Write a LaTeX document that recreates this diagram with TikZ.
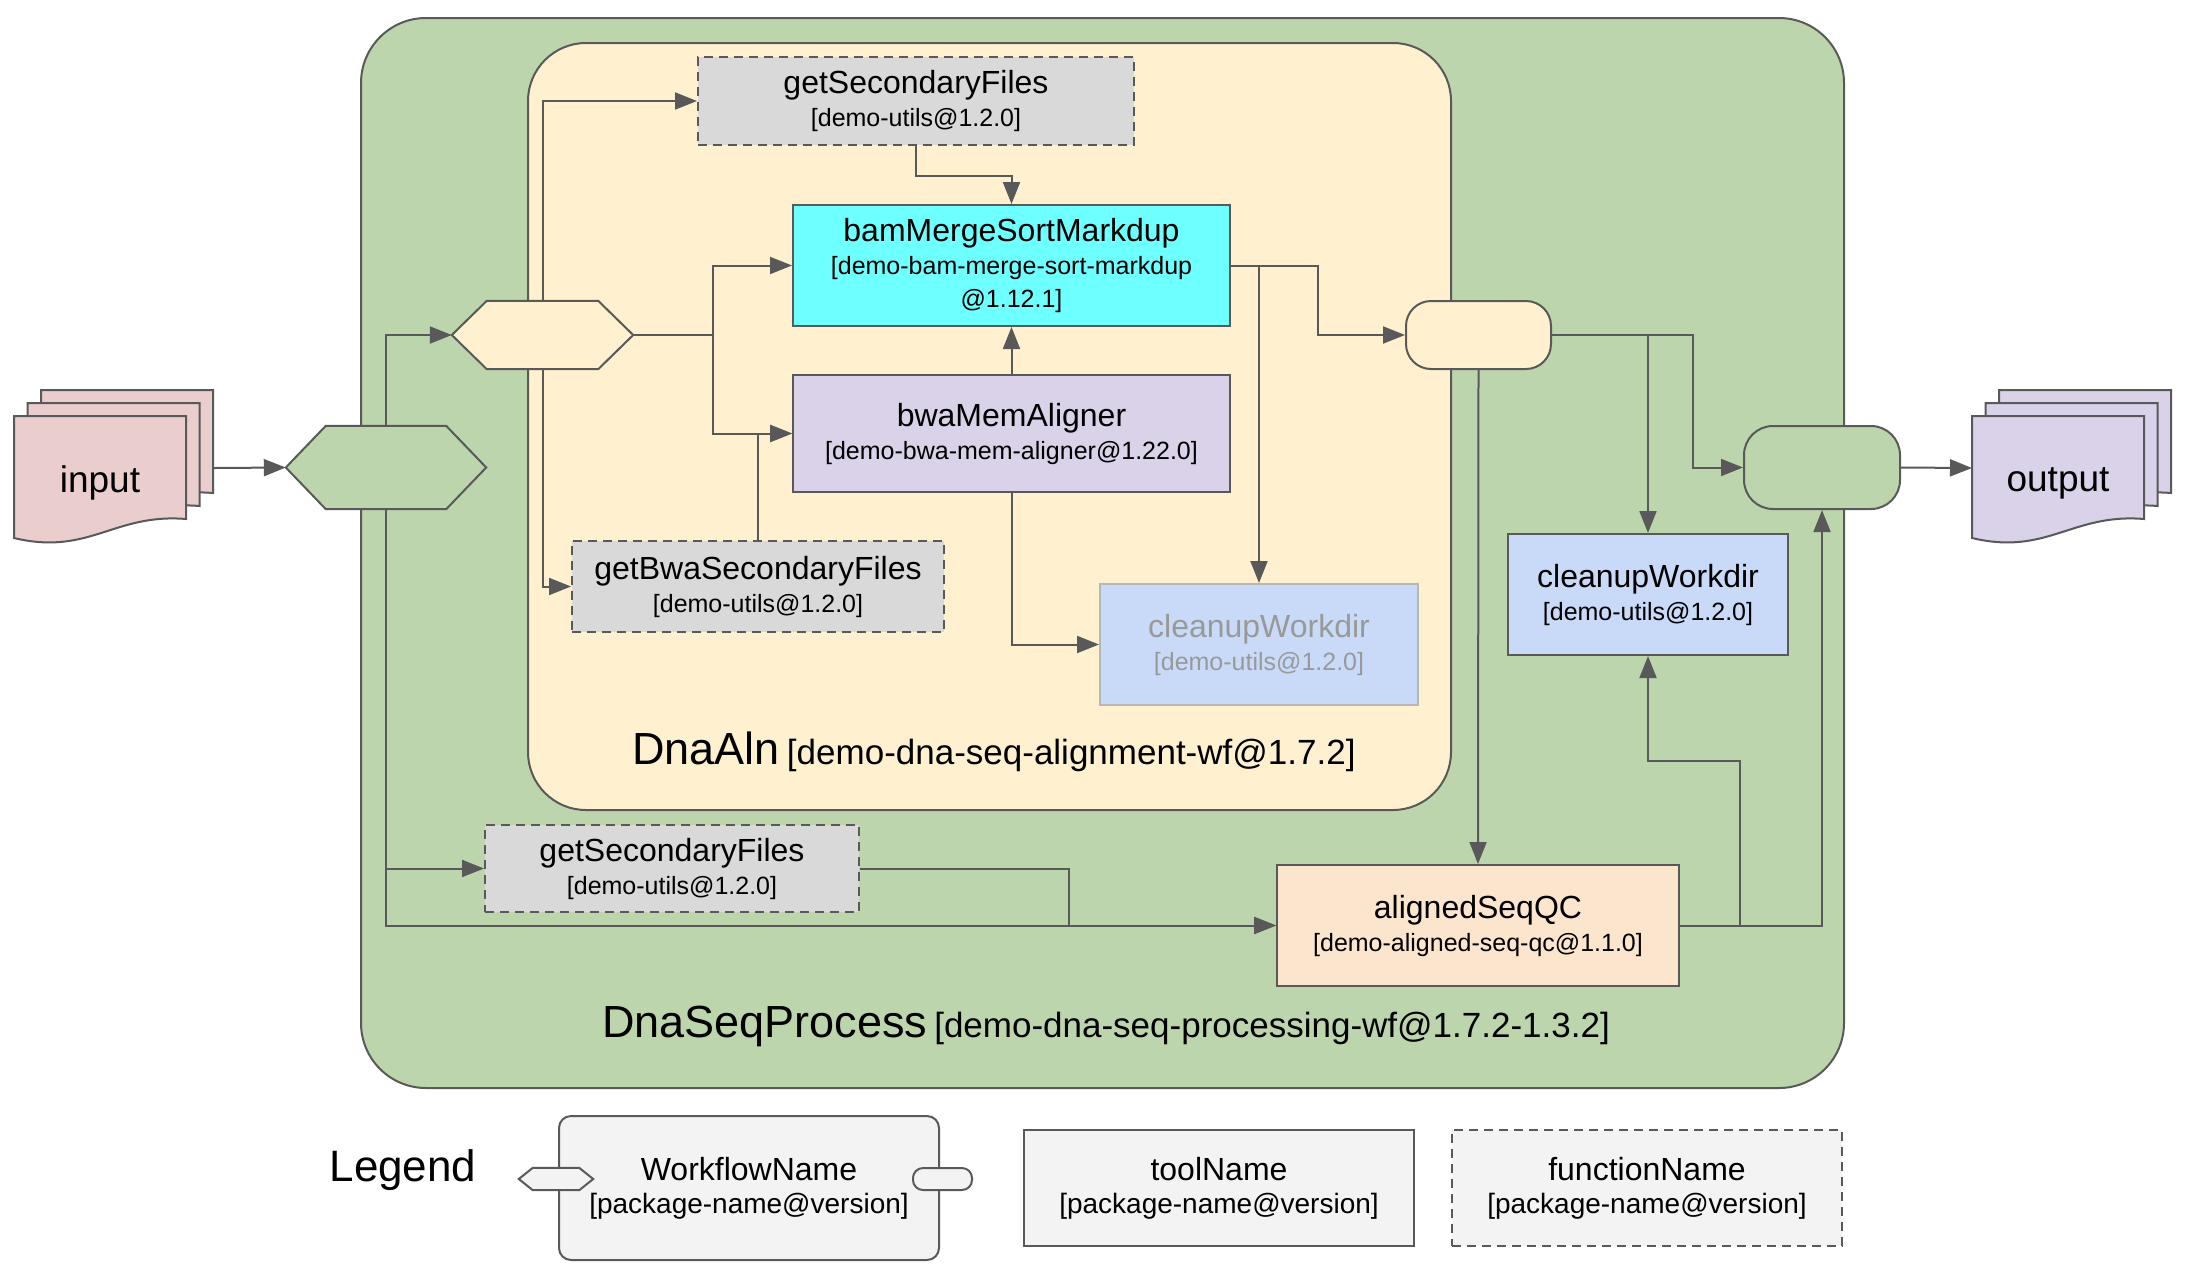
\documentclass[tikz,border=0pt]{standalone}
\usepackage{fontspec}
\setmainfont{Liberation Sans}
\usetikzlibrary{arrows.meta}

\definecolor{linegray}{HTML}{595959}
\definecolor{wfgreen}{HTML}{BCD5AC}
\definecolor{wfyellow}{HTML}{FFF1CF}
\definecolor{funcgray}{HTML}{D9D9D9}
\definecolor{bamcyan}{HTML}{6EFFFF}
\definecolor{bwalilac}{HTML}{D9D2E8}
\definecolor{cleanblue}{HTML}{C9DAF8}
\definecolor{qcpeach}{HTML}{FCE5CD}
\definecolor{inpink}{HTML}{EACDCD}
\definecolor{legendgray}{HTML}{F3F3F3}
\definecolor{fadegray}{HTML}{999999}
\definecolor{fadeline}{HTML}{B7B7B7}

\newcommand{\namefont}{\fontsize{32}{36}\selectfont}
\newcommand{\pkgfont}{\fontsize{25}{33}\selectfont}
\newcommand{\docfont}{\fontsize{37}{44}\selectfont}

% stack of three sheets, #1,#2 = top left of the front sheet
\newcommand{\docsheet}[3]{%
	\draw[draw=linegray, line width=2pt, fill=#3] (#1,#2) -- ({#1+172},#2) -- ({#1+172},{#2+103})
		.. controls ({#1+100},{#2+97}) and ({#1+75},{#2+140}) .. (#1,{#2+122}) -- cycle;}
\newcommand{\docstack}[3]{%
	\docsheet{#1+27}{#2-26}{#3}
	\docsheet{#1+13.5}{#2-13}{#3}
	\docsheet{#1}{#2}{#3}}
% hexagon drawn over a port node
\newcommand{\hexshape}[3]{%
	\draw[draw=linegray, line width=2pt, fill=#3] (#1.west) -- ([xshift=#2pt]#1.north west)
		-- ([xshift=-#2pt]#1.north east) -- (#1.east) -- ([xshift=-#2pt]#1.south east)
		-- ([xshift=#2pt]#1.south west) -- cycle;}

\begin{document}
\begin{tikzpicture}[x=1pt, y=-1pt,
	every node/.style={inner sep=0pt, align=center, font=\pkgfont},
	dims/.style 2 args={minimum width=#1pt, minimum height=#2pt},
	tool/.style={draw=linegray, line width=2pt},
	func/.style={tool, dash pattern=on 9pt off 6pt, fill=funcgray},
	wf/.style={draw=linegray, line width=2pt},
	port/.style={draw=none},
	pill/.style={draw=linegray, line width=2pt},
	conn/.style={draw=linegray, line width=2pt, -{Triangle[length=22pt,width=17pt]}}
]
\useasboundingbox (0,0) rectangle (2190,1270);

% workflows
\node[wf, fill=wfgreen, rounded corners=65pt, dims={1483}{1070}] (seqproc) at (1102.5,553) {};
\node[wf, fill=wfyellow, rounded corners=58pt, dims={923}{767}] (dnaaln) at (989.5,426.5) {};
\node[anchor=base] (alnlabel) at (994,764)
	{{\fontsize{45}{50}\selectfont DnaAln} {\fontsize{35}{42}\selectfont [demo-dna-seq-alignment-wf@1.7.2]}};
\node[anchor=base] (proclabel) at (1106,1037)
	{{\fontsize{45}{50}\selectfont DnaSeqProcess} {\fontsize{35}{42}\selectfont [demo-dna-seq-processing-wf@1.7.2-1.3.2]}};

% input / output
\docstack{14}{416}{inpink}
\docstack{1972}{416}{bwalilac}
\node[font=\docfont] (inp) at (100,483) {input};
\node[font=\docfont] (outp) at (2058,483) {output};
\coordinate (inR) at (214,468);
\coordinate (outL) at (1972,468);

% ports
\node[port, dims={200}{83}] (hexO) at (386,467.5) {};
\hexshape{hexO}{40}{wfgreen}
\node[port, dims={181}{68}] (hexI) at (542.5,335) {};
\hexshape{hexI}{35}{wfyellow}
\node[pill, fill=wfyellow, rounded corners=25pt, dims={145}{68}] (pillI) at (1478.5,335) {};
\node[pill, fill=wfgreen, rounded corners=29pt, dims={156}{83}] (pillO) at (1822,467.5) {};

% steps
\node[func, dims={436}{88}] (gsfA) at (916,101)
	{{\namefont getSecondaryFiles}\\{[demo-utils@1.2.0]}};
\node[tool, fill=bamcyan, dims={437}{121}] (bam) at (1011.5,265.5)
	{{\namefont bamMergeSortMarkdup}\\{[demo-bam-merge-sort-markdup}\\{@1.12.1]}};
\node[tool, fill=bwalilac, dims={437}{117}] (bwa) at (1011.5,433.5)
	{{\namefont bwaMemAligner}\\{[demo-bwa-mem-aligner@1.22.0]}};
\node[func, dims={372}{91}] (gbsf) at (758,586.5)
	{{\namefont getBwaSecondaryFiles}\\{[demo-utils@1.2.0]}};
\node[tool, draw=fadeline, fill=cleanblue, text=fadegray, dims={318}{121}] (cleanI) at (1259,644.5)
	{{\namefont cleanupWorkdir}\\{[demo-utils@1.2.0]}};
\node[tool, fill=cleanblue, dims={280}{121}] (cleanO) at (1648,594.5)
	{{\namefont cleanupWorkdir}\\{[demo-utils@1.2.0]}};
\node[func, dims={374}{87}] (gsfB) at (672,868.5)
	{{\namefont getSecondaryFiles}\\{[demo-utils@1.2.0]}};
\node[tool, fill=qcpeach, dims={402}{121}] (qc) at (1478,925.5)
	{{\namefont alignedSeqQC}\\{[demo-aligned-seq-qc@1.1.0]}};

% connections
\draw[conn] (inR) -- (hexO.west);
\draw[conn] (hexO.north) |- (hexI.west);
\draw[conn] (hexI.north) |- (gsfA.west);
\draw[conn] (hexI.south) |- (gbsf.west);
\draw[conn] (hexI.east) -- ++(80,0) |- (bam.west);
\draw[conn] (hexI.east) -- ++(80,0) |- (bwa.west);
\draw[conn] (gbsf.north) |- (bwa.west);
\draw[conn] (gsfA.south) -- ++(0,30) -| (bam.north);
\draw[conn] (bwa.north) -- (bam.south);
\draw[conn] (bwa.south) |- (cleanI.west);
\draw[conn] (bam.east) -- ++(87,0) |- (pillI.west);
\draw[conn] (bam.east) -| (cleanI.north);
\draw[conn] (pillI.east) -- ++(141,0) |- (pillO.west);
\draw[conn] (pillI.east) -| (cleanO.north);
\draw[conn] (pillI.south) -- (qc.north);
\draw[conn] (hexO.south) |- (gsfB.west);
\draw[conn] (hexO.south) |- (qc.west);
\draw[conn] (gsfB.east) -- ++(209,0) |- (qc.west);
\draw[conn] (qc.east) -| (pillO.south);
\draw[conn] (qc.east) -- ++(60,0) -- ++(0,-165) -| (cleanO.south);
\draw[conn] (pillO.east) -- (outL);

% legend
\node[anchor=base, font=\fontsize{44}{50}\selectfont] (legend) at (403,1181) {Legend};
\node[tool, fill=legendgray, rounded corners=12pt, dims={380}{144}] (lgwf) at (749,1188)
	{{\namefont WorkflowName}\\{\fontsize{28}{34}\selectfont [package-name@version]}};
\node[port, dims={74}{22}] (lghex) at (556,1179) {};
\hexshape{lghex}{14}{legendgray}
\node[pill, fill=legendgray, rounded corners=10pt, dims={59}{22}] (lgpill) at (942.5,1179) {};
\node[tool, fill=legendgray, dims={390}{116}] (lgtool) at (1219,1188)
	{{\namefont toolName}\\{\fontsize{28}{34}\selectfont [package-name@version]}};
\node[func, fill=legendgray, dims={390}{116}] (lgfunc) at (1647,1188)
	{{\namefont functionName}\\{\fontsize{28}{34}\selectfont [package-name@version]}};
\end{tikzpicture}
\end{document}
